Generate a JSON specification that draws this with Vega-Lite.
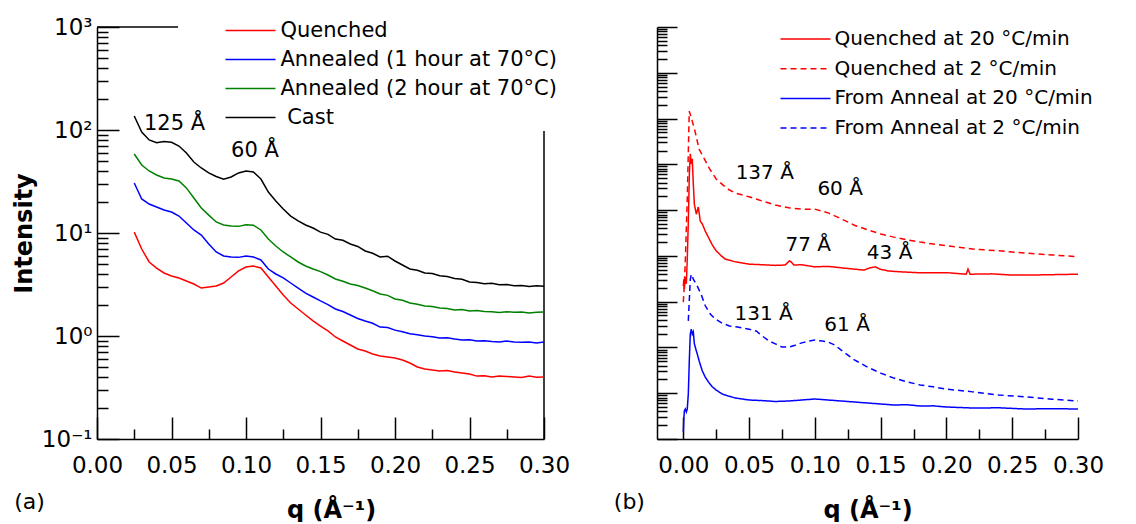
{
"$schema": "https://vega.github.io/schema/vega-lite/v6.json",
"padding": {"left": 12, "top": 16, "right": 0, "bottom": 0},
"background": "white",
"bounds": "flush",
"spacing": 113,
"config": {
  "view": {"stroke": null},
  "font": "DejaVu Sans",
  "axis": {"domainColor": "#000", "domainWidth": 1.5, "tickColor": "#000", "tickWidth": 1.5, "labelColor": "#000", "labelFont": "DejaVu Sans", "labelFontSize": 23, "labelOverlap": false, "labelFlush": false, "grid": false, "titleFont": "DejaVu Sans", "titleFontSize": 24, "titleFontWeight": "bold", "titleColor": "#000"},
  "legend": {"title": null, "orient": "none", "symbolType": "M-2.5,0L2.5,0", "symbolSize": 400, "symbolStrokeWidth": 1.5, "labelFont": "DejaVu Sans", "labelColor": "#000", "labelLimit": 600, "padding": 0}
},
"resolve": {"scale": {"color": "independent", "strokeDash": "independent"}},
"datasets": {
  "frame": [{"q": 0, "q2": 0.0544, "I": 1000, "I2": 1000}, {"q": 0.3, "q2": 0.3, "I": 0.1, "I2": 98}],
  "alab": [{"q": 0.052, "I": 115.6, "t": "125 Å"}, {"q": 0.106, "I": 63.2, "t": "60 Å"}],
  "atag": [{"q": -0.0453, "I": 0.0244, "t": "(a)"}],
  "a": [
    {"s":"C","q":0.025,"I":136.8},{"s":"C","q":0.03,"I":95.7},{"s":"C","q":0.035,"I":80.0},{"s":"C","q":0.04,"I":75.2},{"s":"C","q":0.045,"I":77.5},{"s":"C","q":0.05,"I":76.0},{"s":"C","q":0.055,"I":69.9},{"s":"C","q":0.06,"I":59.8},{"s":"C","q":0.065,"I":48.9},{"s":"C","q":0.07,"I":42.8},{"s":"C","q":0.075,"I":38.3},{"s":"C","q":0.08,"I":35.4},{"s":"C","q":0.085,"I":33.2},{"s":"C","q":0.09,"I":35.0},{"s":"C","q":0.095,"I":38.3},{"s":"C","q":0.1,"I":40.0},{"s":"C","q":0.105,"I":39.1},{"s":"C","q":0.11,"I":33.4},{"s":"C","q":0.115,"I":25.0},{"s":"C","q":0.12,"I":20.5},{"s":"C","q":0.125,"I":17.1},{"s":"C","q":0.13,"I":14.6},{"s":"C","q":0.135,"I":13.1},{"s":"C","q":0.14,"I":11.97},{"s":"C","q":0.145,"I":11.19},{"s":"C","q":0.15,"I":10.2},{"s":"C","q":0.155,"I":9.7},{"s":"C","q":0.16,"I":8.74},{"s":"C","q":0.165,"I":8.5},{"s":"C","q":0.17,"I":7.82},{"s":"C","q":0.175,"I":7.4},{"s":"C","q":0.18,"I":6.69},{"s":"C","q":0.185,"I":6.35},{"s":"C","q":0.19,"I":5.85},{"s":"C","q":0.195,"I":5.95},{"s":"C","q":0.2,"I":5.35},{"s":"C","q":0.205,"I":4.89},{"s":"C","q":0.21,"I":4.47},{"s":"C","q":0.215,"I":4.35},{"s":"C","q":0.22,"I":4.09},{"s":"C","q":0.225,"I":4.05},{"s":"C","q":0.23,"I":3.85},{"s":"C","q":0.235,"I":3.78},{"s":"C","q":0.24,"I":3.62},{"s":"C","q":0.245,"I":3.55},{"s":"C","q":0.25,"I":3.34},{"s":"C","q":0.255,"I":3.30},{"s":"C","q":0.26,"I":3.22},{"s":"C","q":0.265,"I":3.25},{"s":"C","q":0.27,"I":3.15},{"s":"C","q":0.275,"I":3.16},{"s":"C","q":0.28,"I":3.08},{"s":"C","q":0.285,"I":3.10},{"s":"C","q":0.29,"I":3.02},{"s":"C","q":0.295,"I":3.08},{"s":"C","q":0.3,"I":3.04},
    {"s":"A2","q":0.025,"I":58.5},{"s":"A2","q":0.03,"I":45.7},{"s":"A2","q":0.035,"I":40.0},{"s":"A2","q":0.04,"I":36.6},{"s":"A2","q":0.045,"I":34.2},{"s":"A2","q":0.05,"I":33.4},{"s":"A2","q":0.055,"I":32.0},{"s":"A2","q":0.06,"I":27.4},{"s":"A2","q":0.065,"I":21.9},{"s":"A2","q":0.07,"I":17.5},{"s":"A2","q":0.075,"I":14.9},{"s":"A2","q":0.08,"I":12.8},{"s":"A2","q":0.085,"I":11.97},{"s":"A2","q":0.09,"I":11.7},{"s":"A2","q":0.095,"I":11.6},{"s":"A2","q":0.1,"I":12.0},{"s":"A2","q":0.105,"I":11.9},{"s":"A2","q":0.11,"I":10.7},{"s":"A2","q":0.115,"I":8.74},{"s":"A2","q":0.12,"I":7.48},{"s":"A2","q":0.125,"I":6.54},{"s":"A2","q":0.13,"I":5.85},{"s":"A2","q":0.135,"I":5.23},{"s":"A2","q":0.14,"I":4.78},{"s":"A2","q":0.145,"I":4.47},{"s":"A2","q":0.15,"I":4.22},{"s":"A2","q":0.155,"I":3.91},{"s":"A2","q":0.16,"I":3.58},{"s":"A2","q":0.165,"I":3.40},{"s":"A2","q":0.17,"I":3.20},{"s":"A2","q":0.175,"I":3.09},{"s":"A2","q":0.18,"I":2.92},{"s":"A2","q":0.185,"I":2.75},{"s":"A2","q":0.19,"I":2.56},{"s":"A2","q":0.195,"I":2.48},{"s":"A2","q":0.2,"I":2.29},{"s":"A2","q":0.205,"I":2.22},{"s":"A2","q":0.21,"I":2.09},{"s":"A2","q":0.215,"I":2.03},{"s":"A2","q":0.22,"I":1.96},{"s":"A2","q":0.225,"I":1.93},{"s":"A2","q":0.23,"I":1.87},{"s":"A2","q":0.235,"I":1.85},{"s":"A2","q":0.24,"I":1.79},{"s":"A2","q":0.245,"I":1.81},{"s":"A2","q":0.25,"I":1.75},{"s":"A2","q":0.255,"I":1.77},{"s":"A2","q":0.26,"I":1.73},{"s":"A2","q":0.265,"I":1.72},{"s":"A2","q":0.27,"I":1.69},{"s":"A2","q":0.275,"I":1.72},{"s":"A2","q":0.28,"I":1.70},{"s":"A2","q":0.285,"I":1.71},{"s":"A2","q":0.29,"I":1.67},{"s":"A2","q":0.295,"I":1.70},{"s":"A2","q":0.3,"I":1.71},
    {"s":"A1","q":0.025,"I":30.6},{"s":"A1","q":0.03,"I":21.4},{"s":"A1","q":0.035,"I":19.1},{"s":"A1","q":0.04,"I":17.9},{"s":"A1","q":0.045,"I":16.7},{"s":"A1","q":0.05,"I":16.0},{"s":"A1","q":0.055,"I":14.6},{"s":"A1","q":0.06,"I":12.5},{"s":"A1","q":0.065,"I":10.7},{"s":"A1","q":0.07,"I":9.56},{"s":"A1","q":0.075,"I":7.82},{"s":"A1","q":0.08,"I":6.54},{"s":"A1","q":0.085,"I":5.98},{"s":"A1","q":0.09,"I":5.85},{"s":"A1","q":0.095,"I":5.80},{"s":"A1","q":0.1,"I":5.98},{"s":"A1","q":0.105,"I":5.85},{"s":"A1","q":0.11,"I":5.47},{"s":"A1","q":0.115,"I":4.47},{"s":"A1","q":0.12,"I":4.00},{"s":"A1","q":0.125,"I":3.66},{"s":"A1","q":0.13,"I":3.27},{"s":"A1","q":0.135,"I":2.92},{"s":"A1","q":0.14,"I":2.61},{"s":"A1","q":0.145,"I":2.39},{"s":"A1","q":0.15,"I":2.19},{"s":"A1","q":0.155,"I":2.02},{"s":"A1","q":0.16,"I":1.83},{"s":"A1","q":0.165,"I":1.73},{"s":"A1","q":0.17,"I":1.60},{"s":"A1","q":0.175,"I":1.48},{"s":"A1","q":0.18,"I":1.40},{"s":"A1","q":0.185,"I":1.33},{"s":"A1","q":0.19,"I":1.22},{"s":"A1","q":0.195,"I":1.21},{"s":"A1","q":0.2,"I":1.14},{"s":"A1","q":0.205,"I":1.10},{"s":"A1","q":0.21,"I":1.05},{"s":"A1","q":0.215,"I":1.03},{"s":"A1","q":0.22,"I":1.00},{"s":"A1","q":0.225,"I":0.985},{"s":"A1","q":0.23,"I":0.956},{"s":"A1","q":0.235,"I":0.962},{"s":"A1","q":0.24,"I":0.935},{"s":"A1","q":0.245,"I":0.915},{"s":"A1","q":0.25,"I":0.92},{"s":"A1","q":0.255,"I":0.894},{"s":"A1","q":0.26,"I":0.90},{"s":"A1","q":0.265,"I":0.885},{"s":"A1","q":0.27,"I":0.874},{"s":"A1","q":0.275,"I":0.892},{"s":"A1","q":0.28,"I":0.874},{"s":"A1","q":0.285,"I":0.868},{"s":"A1","q":0.29,"I":0.874},{"s":"A1","q":0.295,"I":0.855},{"s":"A1","q":0.3,"I":0.874},
    {"s":"Q","q":0.025,"I":10.2},{"s":"Q","q":0.03,"I":6.99},{"s":"Q","q":0.035,"I":5.23},{"s":"Q","q":0.04,"I":4.57},{"s":"Q","q":0.045,"I":4.09},{"s":"Q","q":0.05,"I":3.83},{"s":"Q","q":0.055,"I":3.66},{"s":"Q","q":0.06,"I":3.42},{"s":"Q","q":0.065,"I":3.20},{"s":"Q","q":0.07,"I":2.92},{"s":"Q","q":0.075,"I":2.99},{"s":"Q","q":0.08,"I":3.06},{"s":"Q","q":0.085,"I":3.27},{"s":"Q","q":0.09,"I":3.74},{"s":"Q","q":0.095,"I":4.28},{"s":"Q","q":0.1,"I":4.68},{"s":"Q","q":0.105,"I":4.78},{"s":"Q","q":0.11,"I":4.57},{"s":"Q","q":0.115,"I":3.74},{"s":"Q","q":0.12,"I":3.06},{"s":"Q","q":0.125,"I":2.50},{"s":"Q","q":0.13,"I":2.09},{"s":"Q","q":0.135,"I":1.83},{"s":"Q","q":0.14,"I":1.60},{"s":"Q","q":0.145,"I":1.40},{"s":"Q","q":0.15,"I":1.25},{"s":"Q","q":0.155,"I":1.12},{"s":"Q","q":0.16,"I":0.978},{"s":"Q","q":0.165,"I":0.894},{"s":"Q","q":0.17,"I":0.818},{"s":"Q","q":0.175,"I":0.748},{"s":"Q","q":0.18,"I":0.715},{"s":"Q","q":0.185,"I":0.669},{"s":"Q","q":0.19,"I":0.639},{"s":"Q","q":0.195,"I":0.625},{"s":"Q","q":0.2,"I":0.611},{"s":"Q","q":0.205,"I":0.585},{"s":"Q","q":0.21,"I":0.547},{"s":"Q","q":0.215,"I":0.500},{"s":"Q","q":0.22,"I":0.478},{"s":"Q","q":0.225,"I":0.468},{"s":"Q","q":0.23,"I":0.457},{"s":"Q","q":0.235,"I":0.462},{"s":"Q","q":0.24,"I":0.447},{"s":"Q","q":0.245,"I":0.437},{"s":"Q","q":0.25,"I":0.428},{"s":"Q","q":0.255,"I":0.408},{"s":"Q","q":0.26,"I":0.412},{"s":"Q","q":0.265,"I":0.400},{"s":"Q","q":0.27,"I":0.408},{"s":"Q","q":0.275,"I":0.404},{"s":"Q","q":0.28,"I":0.400},{"s":"Q","q":0.285,"I":0.396},{"s":"Q","q":0.29,"I":0.408},{"s":"Q","q":0.295,"I":0.398},{"s":"Q","q":0.3,"I":0.400}
  ],
  "blab": [{"q": 0.0619, "v": 6.63e5, "t": "137 Å"}, {"q": 0.1192, "v": 2.96e5, "t": "60 Å"}, {"q": 0.0949, "v": 1.69e4, "t": "77 Å"}, {"q": 0.1568, "v": 1.13e4, "t": "43 Å"}, {"q": 0.0611, "v": 537, "t": "131 Å"}, {"q": 0.1245, "v": 317, "t": "61 Å"}],
  "btag": [{"q": -0.041, "v": 0.042, "t": "(b)"}],
  "b": [
    {"s":"Q2","q":0,"v":977},{"s":"Q2","q":0.0008,"v":2455},{"s":"Q2","q":0.0015,"v":7413},{"s":"Q2","q":0.003,"v":173780},{"s":"Q2","q":0.0045,"v":1.445e7},{"s":"Q2","q":0.006,"v":1.07e7},{"s":"Q2","q":0.009,"v":5.13e6},{"s":"Q2","q":0.012,"v":2.14e6},{"s":"Q2","q":0.016,"v":1.32e6},{"s":"Q2","q":0.02,"v":7.94e5},{"s":"Q2","q":0.025,"v":4.79e5},{"s":"Q2","q":0.03,"v":3.55e5},{"s":"Q2","q":0.035,"v":2.75e5},{"s":"Q2","q":0.04,"v":2.34e5},{"s":"Q2","q":0.05,"v":1.95e5},{"s":"Q2","q":0.06,"v":1.58e5},{"s":"Q2","q":0.07,"v":1.29e5},{"s":"Q2","q":0.08,"v":1.12e5},{"s":"Q2","q":0.09,"v":1.05e5},{"s":"Q2","q":0.1,"v":1.05e5},{"s":"Q2","q":0.11,"v":8.71e4},{"s":"Q2","q":0.12,"v":6.46e4},{"s":"Q2","q":0.13,"v":4.68e4},{"s":"Q2","q":0.14,"v":3.72e4},{"s":"Q2","q":0.15,"v":3.02e4},{"s":"Q2","q":0.16,"v":2.57e4},{"s":"Q2","q":0.17,"v":2.24e4},{"s":"Q2","q":0.18,"v":2.0e4},{"s":"Q2","q":0.19,"v":1.82e4},{"s":"Q2","q":0.2,"v":1.66e4},{"s":"Q2","q":0.22,"v":1.41e4},{"s":"Q2","q":0.24,"v":1.29e4},{"s":"Q2","q":0.26,"v":1.15e4},{"s":"Q2","q":0.28,"v":1.05e4},{"s":"Q2","q":0.3,"v":9550},
    {"s":"Q20","q":0,"v":2188},{"s":"Q20","q":0.0004,"v":3090},{"s":"Q20","q":0.0008,"v":1905},{"s":"Q20","q":0.0015,"v":3467},{"s":"Q20","q":0.0023,"v":2455},{"s":"Q20","q":0.003,"v":8511},{"s":"Q20","q":0.0038,"v":5.5e4},{"s":"Q20","q":0.0046,"v":6.17e5},{"s":"Q20","q":0.0053,"v":1.7e6},{"s":"Q20","q":0.0061,"v":1.02e6},{"s":"Q20","q":0.0068,"v":1.32e6},{"s":"Q20","q":0.0076,"v":3.72e5},{"s":"Q20","q":0.0084,"v":1.35e5},{"s":"Q20","q":0.0099,"v":8.13e4},{"s":"Q20","q":0.0114,"v":1.17e5},{"s":"Q20","q":0.0129,"v":5.75e4},{"s":"Q20","q":0.0144,"v":5.01e4},{"s":"Q20","q":0.0167,"v":3.47e4},{"s":"Q20","q":0.019,"v":2.57e4},{"s":"Q20","q":0.022,"v":1.74e4},{"s":"Q20","q":0.025,"v":1.29e4},{"s":"Q20","q":0.0289,"v":1.0e4},{"s":"Q20","q":0.0319,"v":8511},{"s":"Q20","q":0.0395,"v":7413},{"s":"Q20","q":0.05,"v":6607},{"s":"Q20","q":0.06,"v":6400},{"s":"Q20","q":0.07,"v":6200},{"s":"Q20","q":0.0775,"v":6310},{"s":"Q20","q":0.0805,"v":7762},{"s":"Q20","q":0.082,"v":7413},{"s":"Q20","q":0.084,"v":6310},{"s":"Q20","q":0.09,"v":6400},{"s":"Q20","q":0.1,"v":5754},{"s":"Q20","q":0.11,"v":5900},{"s":"Q20","q":0.12,"v":5495},{"s":"Q20","q":0.13,"v":5129},{"s":"Q20","q":0.1375,"v":4898},{"s":"Q20","q":0.142,"v":5495},{"s":"Q20","q":0.146,"v":5754},{"s":"Q20","q":0.1496,"v":5129},{"s":"Q20","q":0.156,"v":4677},{"s":"Q20","q":0.166,"v":4467},{"s":"Q20","q":0.181,"v":4266},{"s":"Q20","q":0.2,"v":4300},{"s":"Q20","q":0.215,"v":3981},{"s":"Q20","q":0.2164,"v":5129},{"s":"Q20","q":0.218,"v":3981},{"s":"Q20","q":0.2346,"v":4050},{"s":"Q20","q":0.25,"v":3802},{"s":"Q20","q":0.2726,"v":3850},{"s":"Q20","q":0.3,"v":3981},
    {"s":"A2","q":0.0038,"v":380},{"s":"A2","q":0.0046,"v":1148},{"s":"A2","q":0.0053,"v":3090},{"s":"A2","q":0.0061,"v":3981},{"s":"A2","q":0.0076,"v":3090},{"s":"A2","q":0.0106,"v":2188},{"s":"A2","q":0.0137,"v":1413},{"s":"A2","q":0.0167,"v":813},{"s":"A2","q":0.0205,"v":537},{"s":"A2","q":0.0243,"v":417},{"s":"A2","q":0.0296,"v":339},{"s":"A2","q":0.035,"v":295},{"s":"A2","q":0.04,"v":282},{"s":"A2","q":0.05,"v":251},{"s":"A2","q":0.0554,"v":229},{"s":"A2","q":0.06,"v":178},{"s":"A2","q":0.0653,"v":138},{"s":"A2","q":0.07,"v":120},{"s":"A2","q":0.075,"v":102},{"s":"A2","q":0.0805,"v":102},{"s":"A2","q":0.085,"v":112},{"s":"A2","q":0.09,"v":126},{"s":"A2","q":0.0957,"v":138},{"s":"A2","q":0.1,"v":145},{"s":"A2","q":0.1055,"v":138},{"s":"A2","q":0.11,"v":132},{"s":"A2","q":0.1154,"v":112},{"s":"A2","q":0.12,"v":87.1},{"s":"A2","q":0.13,"v":53.7},{"s":"A2","q":0.14,"v":37.2},{"s":"A2","q":0.15,"v":27.5},{"s":"A2","q":0.16,"v":21.4},{"s":"A2","q":0.17,"v":17.8},{"s":"A2","q":0.18,"v":15.1},{"s":"A2","q":0.19,"v":13.8},{"s":"A2","q":0.2,"v":12.3},{"s":"A2","q":0.22,"v":10.7},{"s":"A2","q":0.24,"v":9.12},{"s":"A2","q":0.26,"v":8.32},{"s":"A2","q":0.28,"v":7.41},{"s":"A2","q":0.3,"v":6.76},
    {"s":"A20","q":0,"v":1.42},{"s":"A20","q":0.0004,"v":2.74},{"s":"A20","q":0.0008,"v":4.09},{"s":"A20","q":0.0015,"v":4.52},{"s":"A20","q":0.0023,"v":3.89},{"s":"A20","q":0.003,"v":4.52},{"s":"A20","q":0.0038,"v":9.62},{"s":"A20","q":0.0046,"v":56.2},{"s":"A20","q":0.0053,"v":195},{"s":"A20","q":0.0061,"v":251},{"s":"A20","q":0.0068,"v":195},{"s":"A20","q":0.0076,"v":219},{"s":"A20","q":0.0084,"v":120},{"s":"A20","q":0.0091,"v":102},{"s":"A20","q":0.0099,"v":83.2},{"s":"A20","q":0.0106,"v":72.4},{"s":"A20","q":0.0121,"v":50.1},{"s":"A20","q":0.0144,"v":30.9},{"s":"A20","q":0.0167,"v":22.4},{"s":"A20","q":0.019,"v":17.8},{"s":"A20","q":0.022,"v":13.8},{"s":"A20","q":0.025,"v":11.7},{"s":"A20","q":0.0296,"v":9.62},{"s":"A20","q":0.0342,"v":8.69},{"s":"A20","q":0.0395,"v":7.87},{"s":"A20","q":0.05,"v":7.11},{"s":"A20","q":0.06,"v":6.9},{"s":"A20","q":0.07,"v":6.6},{"s":"A20","q":0.08,"v":6.76},{"s":"A20","q":0.09,"v":7.11},{"s":"A20","q":0.1,"v":7.48},{"s":"A20","q":0.11,"v":7.11},{"s":"A20","q":0.12,"v":6.76},{"s":"A20","q":0.13,"v":6.43},{"s":"A20","q":0.14,"v":6.11},{"s":"A20","q":0.15,"v":5.82},{"s":"A20","q":0.16,"v":5.53},{"s":"A20","q":0.17,"v":5.6},{"s":"A20","q":0.18,"v":5.26},{"s":"A20","q":0.19,"v":5.3},{"s":"A20","q":0.2,"v":5.0},{"s":"A20","q":0.22,"v":4.75},{"s":"A20","q":0.24,"v":4.8},{"s":"A20","q":0.26,"v":4.52},{"s":"A20","q":0.28,"v":4.6},{"s":"A20","q":0.3,"v":4.52}
  ]
},
"hconcat": [
  {
    "width": 447, "height": 412,
    "encoding": {
      "x": {"field": "q", "type": "quantitative", "scale": {"domain": [0, 0.3], "nice": false, "zero": false},
        "axis": {"values": [0,0.025,0.05,0.075,0.1,0.125,0.15,0.175,0.2,0.225,0.25,0.275,0.3],
          "labelExpr": "round(datum.value*1000)%50==0 ? format(datum.value,'.2f') : ''",
          "tickSize": {"condition": {"test": "round(datum.value*1000)%50==0", "value": -22}, "value": -10},
          "labelPadding": 37, "title": "q (Å⁻¹)", "titlePadding": 9, "titleX": 234}},
      "y": {"field": "I", "type": "quantitative", "scale": {"type": "log", "domain": [0.1, 1000], "nice": false},
        "axis": {"values": [0.1,0.2,0.3,0.4,0.5,0.6,0.7,0.8,0.9,1,2,3,4,5,6,7,8,9,10,20,30,40,50,60,70,80,90,100,200,300,400,500,600,700,800,900,1000],
          "labelExpr": "datum.value==1000?'10³':datum.value==100?'10²':datum.value==10?'10¹':datum.value==1?'10⁰':datum.value==0.1?'10⁻¹':''",
          "tickSize": {"condition": {"test": "indexof([0.1,1,10,100,1000], datum.value) >= 0", "value": -22}, "value": -11},
          "labelPadding": 27, "title": "Intensity", "titlePadding": 5}}
    },
    "layer": [
      {"data": {"name": "frame"}, "mark": {"type": "rule", "color": "#000", "strokeWidth": 1.5},
       "encoding": {"x2": {"field": "q2"}, "y2": {"field": "I2"}}},
      {"data": {"name": "a"}, "mark": {"type": "line", "strokeWidth": 1.5},
       "encoding": {"color": {"field": "s", "type": "nominal",
         "scale": {"domain": ["Q","A1","A2","C"], "range": ["#ff0000","#0000ff","#008000","#000000"]},
         "legend": {"legendX": 142.5, "legendY": -7.5, "labelFontSize": 21, "labelOffset": 19, "rowPadding": 8,
           "labelExpr": "{'Q':'Quenched','A1':'Annealed (1 hour at 70°C)','A2':'Annealed (2 hour at 70°C)','C':'\u200b\u00a0Cast'}[datum.label]"}}}},
      {"data": {"name": "alab"}, "mark": {"type": "text", "font": "DejaVu Sans", "fontSize": 21, "color": "#000", "align": "center", "baseline": "middle"},
       "encoding": {"text": {"field": "t"}}},
      {"data": {"name": "atag"}, "mark": {"type": "text", "font": "DejaVu Sans", "fontSize": 22, "color": "#000", "align": "center", "baseline": "middle"},
       "encoding": {"text": {"field": "t"}}}
    ]
  },
  {
    "width": 421, "height": 412,
    "encoding": {
      "x": {"field": "q", "type": "quantitative", "scale": {"domain": [-0.02, 0.3], "nice": false, "zero": false},
        "axis": {"values": [0,0.025,0.05,0.075,0.1,0.125,0.15,0.175,0.2,0.225,0.25,0.275,0.3],
          "labelExpr": "round(datum.value*1000)%50==0 ? format(datum.value,'.2f') : ''",
          "tickSize": {"condition": {"test": "round(datum.value*1000)%50==0", "value": -22}, "value": -10},
          "labelPadding": 37, "title": "q (Å⁻¹)", "titlePadding": 9}},
      "y": {"field": "v", "type": "quantitative", "scale": {"type": "log", "domain": [1, 1e9], "nice": false},
        "axis": {"values": [1,2,3,4,5,6,7,8,9,10,20,30,40,50,60,70,80,90,100,200,300,400,500,600,700,800,900,1e3,2e3,3e3,4e3,5e3,6e3,7e3,8e3,9e3,1e4,2e4,3e4,4e4,5e4,6e4,7e4,8e4,9e4,1e5,2e5,3e5,4e5,5e5,6e5,7e5,8e5,9e5,1e6,2e6,3e6,4e6,5e6,6e6,7e6,8e6,9e6,1e7,2e7,3e7,4e7,5e7,6e7,7e7,8e7,9e7,1e8,2e8,3e8,4e8,5e8,6e8,7e8,8e8,9e8,1e9],
          "labels": false, "title": null,
          "tickSize": {"condition": {"test": "abs(log(datum.value)/LN10 - round(log(datum.value)/LN10)) < 0.001", "value": -20}, "value": -10}}}
    },
    "layer": [
      {"data": {"name": "b"}, "mark": {"type": "line", "strokeWidth": 1.5},
       "encoding": {
         "color": {"field": "s", "type": "nominal",
           "scale": {"domain": ["Q20","Q2","A20","A2"], "range": ["#ff0000","#ff0000","#0000ff","#0000ff"]},
           "legend": {"legendX": 137.5, "legendY": 1, "labelFontSize": 20, "labelOffset": 18, "rowPadding": 8.7,
             "labelExpr": "{'Q20':'Quenched at 20 °C/min','Q2':'Quenched at 2 °C/min','A20':'From Anneal at 20 °C/min','A2':'From Anneal at 2 °C/min'}[datum.label]"}},
         "strokeDash": {"field": "s", "type": "nominal",
           "scale": {"domain": ["Q20","Q2","A20","A2"], "range": [[1,0],[6,4],[1,0],[6,4]]},
           "legend": {"legendX": 137.5, "legendY": 1, "labelFontSize": 20, "labelOffset": 18, "rowPadding": 8.7,
             "labelExpr": "{'Q20':'Quenched at 20 °C/min','Q2':'Quenched at 2 °C/min','A20':'From Anneal at 20 °C/min','A2':'From Anneal at 2 °C/min'}[datum.label]"}}}},
      {"data": {"name": "blab"}, "mark": {"type": "text", "font": "DejaVu Sans", "fontSize": 20, "color": "#000", "align": "center", "baseline": "middle"},
       "encoding": {"text": {"field": "t"}}},
      {"data": {"name": "btag"}, "mark": {"type": "text", "font": "DejaVu Sans", "fontSize": 22, "color": "#000", "align": "center", "baseline": "middle"},
       "encoding": {"text": {"field": "t"}}}
    ]
  }
]
}
